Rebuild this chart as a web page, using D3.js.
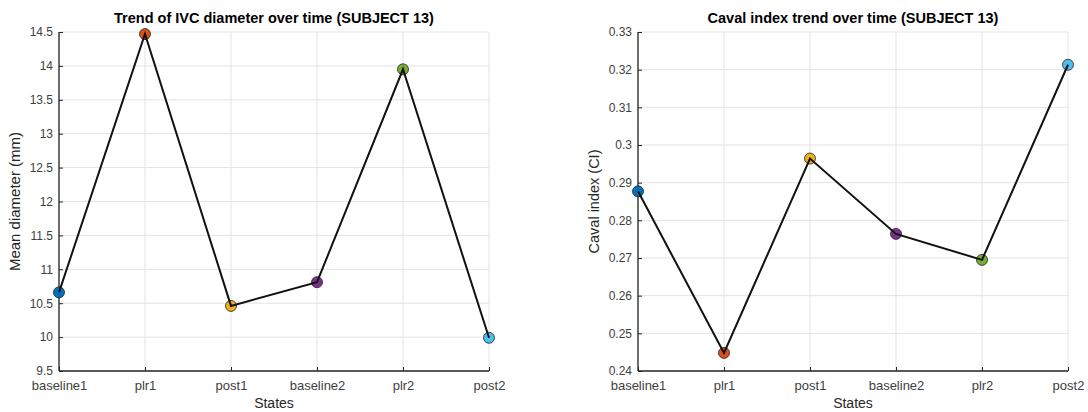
<!DOCTYPE html>
<html>
<head>
<meta charset="utf-8">
<script src="https://cdn.jsdelivr.net/npm/d3@7"></script>
<style>
  body { margin: 0; background: #fff; }
  svg text { font-family: "Liberation Sans", Arial, sans-serif; }
</style>
</head>
<body>
<svg id="chart" width="1088" height="412"></svg>
<script>
// data
const states = ['baseline1', 'plr1', 'post1', 'baseline2', 'plr2', 'post2'];
const stateColours = ['#0072BD', '#D95319', '#EDB120', '#7E2F8E', '#77AC30', '#4DBEEE'];

const meanDiameter = [10.66, 14.47, 10.46, 10.81, 13.95, 9.99];
const diameterTicks = [9.5, 10, 10.5, 11, 11.5, 12, 12.5, 13, 13.5, 14, 14.5];

const cavalIndex = [0.2877, 0.2448, 0.2964, 0.2764, 0.2695, 0.3213];
const cavalTicks = [0.24, 0.25, 0.26, 0.27, 0.28, 0.29, 0.30, 0.31, 0.32, 0.33];

const svg = d3.select('#chart');

function drawPanel(opts) {
    const x = d3.scalePoint().domain(states).range([opts.left, opts.right]);
    const y = d3.scaleLinear().domain(opts.domain).range([opts.bottom, opts.top]);
    const g = svg.append('g');

    // grid
    g.append('g').selectAll('line.gy').data(opts.ticks).enter().append('line')
        .attr('x1', opts.left).attr('x2', opts.right)
        .attr('y1', d => y(d)).attr('y2', d => y(d))
        .attr('stroke', '#e3e3e3').attr('stroke-width', 1);
    g.append('g').selectAll('line.gx').data(states).enter().append('line')
        .attr('x1', d => x(d)).attr('x2', d => x(d))
        .attr('y1', opts.top).attr('y2', opts.bottom)
        .attr('stroke', '#e3e3e3').attr('stroke-width', 1);

    // axes
    const yAxis = g.append('g')
        .attr('transform', `translate(${opts.left},0)`)
        .call(d3.axisLeft(y).tickValues(opts.ticks).tickSize(-4).tickPadding(6).tickFormat(opts.fmt));
    const xAxis = g.append('g')
        .attr('transform', `translate(0,${opts.bottom})`)
        .call(d3.axisBottom(x).tickSize(-4).tickPadding(10));
    [yAxis, xAxis].forEach(a => {
        a.select('.domain').attr('stroke', '#262626').attr('stroke-width', 1.3);
        a.selectAll('.tick line').attr('stroke', '#262626');
        a.selectAll('.tick text').attr('fill', '#404040').style('font-size', '12px');
    });
    xAxis.selectAll('.tick text').style('font-size', '13px');
    xAxis.select('.domain').attr('d', `M${opts.left},0H${opts.right}`);
    yAxis.select('.domain').attr('d', `M0,${opts.bottom}V${opts.top}`);

    // line + markers
    const line = d3.line().x((d, i) => x(states[i])).y(d => y(d));
    g.selectAll('circle').data(opts.values).enter().append('circle')
        .attr('cx', (d, i) => x(states[i])).attr('cy', d => y(d))
        .attr('r', 5.5)
        .attr('fill', (d, i) => stateColours[i])
        .attr('stroke', '#222').attr('stroke-width', 0.8);
    // line goes over the markers, as in the original
    g.append('path').datum(opts.values)
        .attr('d', line).attr('fill', 'none')
        .attr('stroke', '#111').attr('stroke-width', 2);

    // titles
    g.append('text')
        .attr('x', (opts.left + opts.right) / 2).attr('y', 23)
        .attr('text-anchor', 'middle')
        .style('font-size', '14.5px').style('font-weight', 'bold').attr('fill', '#000')
        .text(opts.title);
    g.append('text')
        .attr('x', (opts.left + opts.right) / 2).attr('y', 408)
        .attr('text-anchor', 'middle')
        .style('font-size', '14px').attr('fill', '#262626')
        .text('States');
    g.append('text')
        .attr('transform', `translate(${opts.ylabelX},${(opts.top + opts.bottom) / 2}) rotate(-90)`)
        .attr('text-anchor', 'middle')
        .style('font-size', opts.ylabelSize).attr('fill', '#262626')
        .text(opts.ylabel);
}

drawPanel({
    left: 59, right: 489, top: 32, bottom: 371,
    domain: [9.5, 14.5], ticks: diameterTicks, fmt: d3.format(''),
    values: meanDiameter,
    title: 'Trend of IVC diameter over time (SUBJECT 13)',
    ylabel: 'Mean diameter (mm)', ylabelX: 20, ylabelSize: '15px'
});

drawPanel({
    left: 638, right: 1068, top: 32, bottom: 371,
    domain: [0.24, 0.33], ticks: cavalTicks, fmt: d => (+d.toFixed(2)).toString(),
    values: cavalIndex,
    title: 'Caval index trend over time (SUBJECT 13)',
    ylabel: 'Caval index (CI)', ylabelX: 599, ylabelSize: '14.5px'
});
</script>
</body>
</html>
